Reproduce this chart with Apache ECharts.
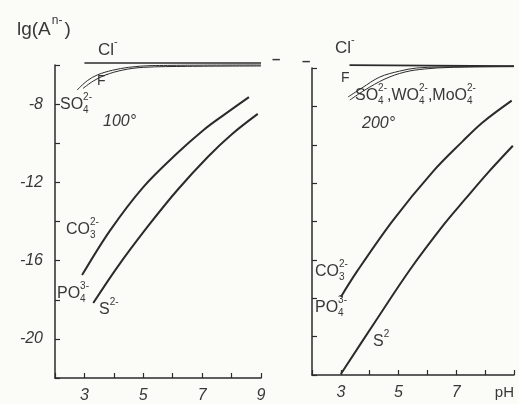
<!DOCTYPE html>
<html>
<head>
<meta charset="utf-8">
<script src="https://cdn.jsdelivr.net/npm/echarts@6/dist/echarts.min.js"></script>
<style>
  html, body { margin: 0; padding: 0; background: #fbfbf8; }
  #chart { width: 519px; height: 404px; }
</style>
</head>
<body>
<div id="chart"></div>
<script>
// tick labels
const xLabelValues = [3, 5, 7, 9]
const xLabelsLeft = ['3', '5', '7', '9']
const xLabelsRight = ['3', '5', '7', 'pH']
const yLabelValues = [-8, -12, -16, -20]

// 100 deg panel  [pH, lg A]
const clLeft = [[3.0, -5.9], [9.0, -5.9]]
const fLeft = [[2.75, -7.28], [3.1, -6.8], [3.45, -6.5], [3.95, -6.27], [4.5, -6.12], [5.3, -6.03], [9.0, -6.0]]
const so4Left = [[2.95, -7.2], [3.3, -6.82], [3.7, -6.52], [4.3, -6.26], [5.0, -6.12], [6.5, -6.07], [9.0, -6.05]]
const co3Left = [[2.92, -16.74], [3.88, -14.44], [5.0, -12.24], [6.16, -10.5], [7.05, -9.32], [7.73, -8.56], [8.59, -7.64]]
const s2Left = [[3.3, -18.17], [4.12, -16.33], [5.14, -14.28], [6.16, -12.39], [7.19, -10.7], [8.0, -9.55], [8.89, -8.5]]

// 200 deg panel
const clRight = [[3.3, -5.85], [9.0, -5.9]]
const fRight = [[3.25, -7.51], [3.73, -7.04], [4.35, -6.47], [5.04, -6.16], [5.63, -6.0], [6.43, -5.95], [9.0, -5.9]]
const so4Right = [[3.31, -7.67], [3.83, -7.15], [4.53, -6.57], [5.22, -6.21], [5.91, -6.05], [6.78, -5.97], [9.0, -5.93]]
const co3Right = [[3.0, -17.93], [3.56, -16.6], [4.8, -13.95], [6.19, -11.4], [7.2, -9.85], [7.9, -8.85], [8.92, -7.7]]
const s2Right = [[3.0, -21.95], [4.2, -19.2], [5.4, -16.5], [6.6, -14.1], [7.3, -12.85], [8.1, -11.45], [8.96, -10.05]]

const FONT = '"Liberation Sans", "DejaVu Sans", sans-serif'
const INK = '#2b2b2b'
const TEXT = '#383838'

const chart = echarts.init(document.getElementById('chart'))

const measureCtx = document.createElement('canvas').getContext('2d')
const measure = (t, size, style) => {
  measureCtx.font = (style || '') + ' ' + size + 'px ' + FONT
  return measureCtx.measureText(t).width
}

const txt = (x, y, text, size, style) => ({
  type: 'text',
  x,
  y,
  silent: true,
  style: {
    text,
    fill: TEXT,
    font: (style || '') + ' ' + size + 'px ' + FONT,
    verticalAlign: 'top'
  }
})

// formula with stacked sub/superscripts
const chem = (x, y, parts, size) => {
  const small = Math.round(size * 0.62)
  const els = []
  let cx = x
  parts.forEach((p) => {
    els.push(txt(cx, y, p.t, size))
    cx += measure(p.t, size)
    let w = 0
    if (p.sub) {
      els.push(txt(cx, y + size * 0.5, p.sub, small))
      w = measure(p.sub, small)
    }
    if (p.sup) {
      els.push(txt(cx, y - size * 0.3, p.sup, small))
      w = Math.max(w, measure(p.sup, small))
    }
    cx += w
  })
  return els
}

const axisLine = { show: true, lineStyle: { color: INK, width: 1.5 } }
const axisTick = { show: true, inside: true, length: 5, lineStyle: { color: INK, width: 1.2 } }

const xAxis = (gi, labels) => ({
  type: 'value',
  gridIndex: gi,
  min: 2,
  max: 9,
  interval: 1,
  axisLine,
  axisTick,
  splitLine: { show: false },
  axisLabel: {
    margin: 10,
    color: TEXT,
    fontSize: 16,
    fontStyle: 'italic',
    fontFamily: FONT,
    alignMaxLabel: gi === 1 ? 'right' : 'center',
    formatter: (v) => {
      const i = xLabelValues.indexOf(v)
      if (i < 0) return ''
      return labels[i] === 'pH' ? '{u|pH}' : labels[i]
    },
    rich: { u: { fontStyle: 'normal', fontSize: 15, color: TEXT, fontFamily: FONT } }
  }
})

const yAxis = (gi, showLabels) => ({
  type: 'value',
  gridIndex: gi,
  min: -22,
  max: -6,
  interval: 2,
  axisLine,
  axisTick,
  splitLine: { show: false },
  axisLabel: {
    show: showLabels,
    margin: 12,
    color: TEXT,
    fontSize: 16,
    fontStyle: 'italic',
    fontFamily: FONT,
    formatter: (v) => (yLabelValues.includes(v) ? String(v) : '')
  }
})

const line = (name, data, gi, width) => ({
  name,
  type: 'line',
  xAxisIndex: gi,
  yAxisIndex: gi,
  data,
  smooth: 0.35,
  symbol: 'none',
  clip: false,
  silent: true,
  lineStyle: { color: INK, width }
})

const lgW = measure('lg(A', 19)
const graphics = [
  txt(17, 20, 'lg(A', 19),
  txt(17 + lgW + 1, 15, 'n-', 12),
  txt(17 + lgW + measure('n-', 12) + 3, 20, ')', 19),
  ...chem(98, 42, [{ t: 'Cl', sup: '-' }], 17),
  ...chem(97, 74, [{ t: 'F', sup: '-' }], 14),
  ...chem(60, 97, [{ t: 'SO', sub: '4', sup: '2-' }], 16),
  txt(103, 114, '100°', 16, 'italic'),
  ...chem(66, 222, [{ t: 'CO', sub: '3', sup: '2-' }], 16),
  ...chem(57, 286, [{ t: 'PO', sub: '4', sup: '3-' }], 16),
  ...chem(99, 302, [{ t: 'S', sup: '2-' }], 16),
  txt(272, 52, '–', 15, 'bold'),
  txt(302, 54, '–', 15, 'bold'),
  ...chem(335, 40, [{ t: 'Cl', sup: '-' }], 17),
  txt(341, 71, 'F', 14),
  ...chem(355, 88, [
    { t: 'SO', sub: '4', sup: '2-' },
    { t: ',WO', sub: '4', sup: '2-' },
    { t: ',MoO', sub: '4', sup: '2-' }
  ], 16),
  txt(362, 116, '200°', 16, 'italic'),
  ...chem(315, 264, [{ t: 'CO', sub: '3', sup: '2-' }], 16),
  ...chem(315, 300, [{ t: 'PO', sub: '4', sup: '3-' }], 16),
  ...chem(373, 334, [{ t: 'S', sup: '2' }], 16)
]

const option = {
  backgroundColor: '#fbfbf8',
  animation: false,
  grid: [
    { left: 55, top: 65, width: 206, height: 313 },
    { left: 312, top: 68, width: 202, height: 307 }
  ],
  xAxis: [xAxis(0, xLabelsLeft), xAxis(1, xLabelsRight)],
  yAxis: [yAxis(0, true), yAxis(1, false)],
  series: [
    line('Cl- 100', clLeft, 0, 1.6),
    line('F- 100', fLeft, 0, 1),
    line('SO4 100', so4Left, 0, 1),
    line('CO3 100', co3Left, 0, 2),
    line('S2- 100', s2Left, 0, 2),
    line('Cl- 200', clRight, 1, 1.6),
    line('F- 200', fRight, 1, 1),
    line('SO4 200', so4Right, 1, 1),
    line('CO3 200', co3Right, 1, 2),
    line('S2- 200', s2Right, 1, 2)
  ],
  graphic: graphics
}

chart.setOption(option)
</script>
</body>
</html>
